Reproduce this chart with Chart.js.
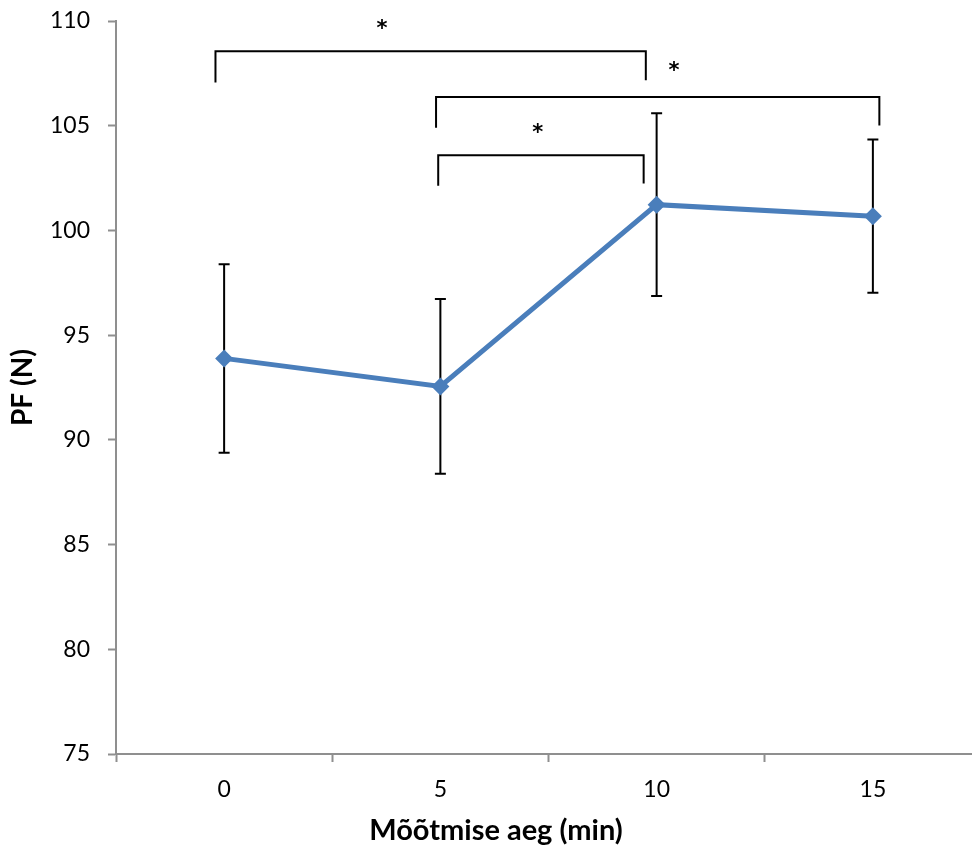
<!DOCTYPE html>
<html>
<head>
<meta charset="utf-8">
<script src="https://cdn.jsdelivr.net/npm/chart.js@4.4.0/dist/chart.umd.min.js"></script>
<style>
  html, body { margin: 0; padding: 0; background: #fff; overflow: hidden; }
  #wrap { position: relative; width: 990px; height: 847px; }
</style>
</head>
<body>
<div id="wrap"><canvas id="chart"></canvas></div>
<script>
const LABELS = ["0", "5", "10", "15"];
const PF_MEAN = [93.89, 92.55, 101.23, 100.68];
const PF_ERR = [4.5, 4.17, 4.36, 3.66];
const Y_MIN = 75;
const Y_MAX = 110;
const Y_STEP = 5;

// significance brackets (x in category index units, y in newtons)
const BRACKET_X = [[-0.04, 1.95], [0.98, 3.03], [0.99, 1.94]];
const BRACKET_TOP = [108.55, 106.37, 103.59];
const BRACKET_FOOT = [[107.06, 107.17], [104.9, 105.01], [102.13, 102.24]];
const STAR_X = [0.73, 2.08, 1.45];
const STAR_Y = [109.88, 107.85, 104.87];

const FONT = "Lato, 'Open Sans', sans-serif";
const AXIS_GREY = "#8f8f8f";
const LINE_BLUE = "#4a7ebb";

const errorBars = {
  id: "errorBars",
  beforeDatasetsDraw(chart) {
    const { ctx, scales } = chart;
    ctx.save();
    ctx.strokeStyle = "#000";
    ctx.lineWidth = 2;
    PF_MEAN.forEach((m, i) => {
      const x = scales.x.getPixelForValue(i);
      const yt = scales.y.getPixelForValue(m + PF_ERR[i]);
      const yb = scales.y.getPixelForValue(m - PF_ERR[i]);
      ctx.beginPath();
      ctx.moveTo(x, yt);
      ctx.lineTo(x, yb);
      ctx.moveTo(x - 5.5, yt);
      ctx.lineTo(x + 5.5, yt);
      ctx.moveTo(x - 5.5, yb);
      ctx.lineTo(x + 5.5, yb);
      ctx.stroke();
    });
    ctx.restore();
  },
};

const brackets = {
  id: "brackets",
  afterDatasetsDraw(chart) {
    const { ctx, scales } = chart;
    const xs = scales.x, ys = scales.y;
    ctx.save();
    ctx.strokeStyle = "#000";
    ctx.lineWidth = 2;
    ctx.lineJoin = "miter";
    BRACKET_X.forEach((bx, i) => {
      const x0 = xs.getPixelForValue(bx[0]);
      const x1 = xs.getPixelForValue(bx[1]);
      const yt = ys.getPixelForValue(BRACKET_TOP[i]);
      ctx.beginPath();
      ctx.moveTo(x0, ys.getPixelForValue(BRACKET_FOOT[i][0]));
      ctx.lineTo(x0, yt);
      ctx.lineTo(x1, yt);
      ctx.lineTo(x1, ys.getPixelForValue(BRACKET_FOOT[i][1]));
      ctx.stroke();
    });
    ctx.fillStyle = "#000";
    ctx.font = "bold 21px 'DejaVu Sans', sans-serif";
    ctx.textAlign = "center";
    ctx.textBaseline = "alphabetic";
    const m = ctx.measureText("*");
    const off = (m.actualBoundingBoxAscent - m.actualBoundingBoxDescent) / 2;
    STAR_X.forEach((sx, i) => {
      ctx.fillText("*", xs.getPixelForValue(sx), ys.getPixelForValue(STAR_Y[i]) + off);
    });
    ctx.restore();
  },
};

const xTitle = {
  id: "xTitle",
  afterDraw(chart) {
    const { ctx } = chart;
    ctx.save();
    ctx.fillStyle = "#000";
    ctx.font = "bold 29px " + FONT;
    ctx.textAlign = "center";
    ctx.textBaseline = "alphabetic";
    ctx.fillText("Mõõtmise aeg (min)", 496, 840);
    ctx.restore();
  },
};

new Chart(document.getElementById("chart"), {
  type: "line",
  data: {
    labels: LABELS,
    datasets: [
      {
        data: PF_MEAN,
        borderColor: LINE_BLUE,
        backgroundColor: LINE_BLUE,
        borderWidth: 5,
        pointStyle: "rectRot",
        pointRadius: 9,
        pointHoverRadius: 9,
        pointBorderWidth: 0,
        tension: 0,
      },
    ],
  },
  options: {
    responsive: true,
    maintainAspectRatio: false,
    animation: false,
    layout: { padding: { top: 21, right: 2, left: 0, bottom: 0 } },
    plugins: {
      legend: { display: false },
      tooltip: { enabled: false },
    },
    scales: {
      x: {
        type: "category",
        offset: true,
        afterFit(scale) {
          scale.height = 93;
          scale.paddingLeft = 0;
          scale.paddingRight = 0;
        },
        grid: {
          offset: true,
          drawOnChartArea: false,
          tickLength: 8,
          tickColor: AXIS_GREY,
          tickWidth: 2,
        },
        border: { color: AXIS_GREY, width: 2 },
        ticks: {
          color: "#000",
          padding: 14,
          font: { family: FONT, size: 23 },
          maxRotation: 0,
        },
      },
      y: {
        min: Y_MIN,
        max: Y_MAX,
        afterFit(scale) {
          scale.width = 116;
          scale.paddingTop = 0;
          scale.paddingBottom = 0;
        },
        grid: {
          drawOnChartArea: false,
          tickLength: 8,
          tickColor: AXIS_GREY,
          tickWidth: 2,
        },
        border: { color: AXIS_GREY, width: 2 },
        ticks: {
          stepSize: Y_STEP,
          color: "#000",
          padding: 18,
          font: { family: FONT, size: 23 },
        },
        title: {
          display: true,
          text: "PF (N)",
          color: "#000",
          font: { family: FONT, size: 28, weight: "bold" },
          padding: { top: 6, bottom: 0 },
        },
      },
    },
  },
  plugins: [errorBars, brackets, xTitle],
});
</script>
</body>
</html>
